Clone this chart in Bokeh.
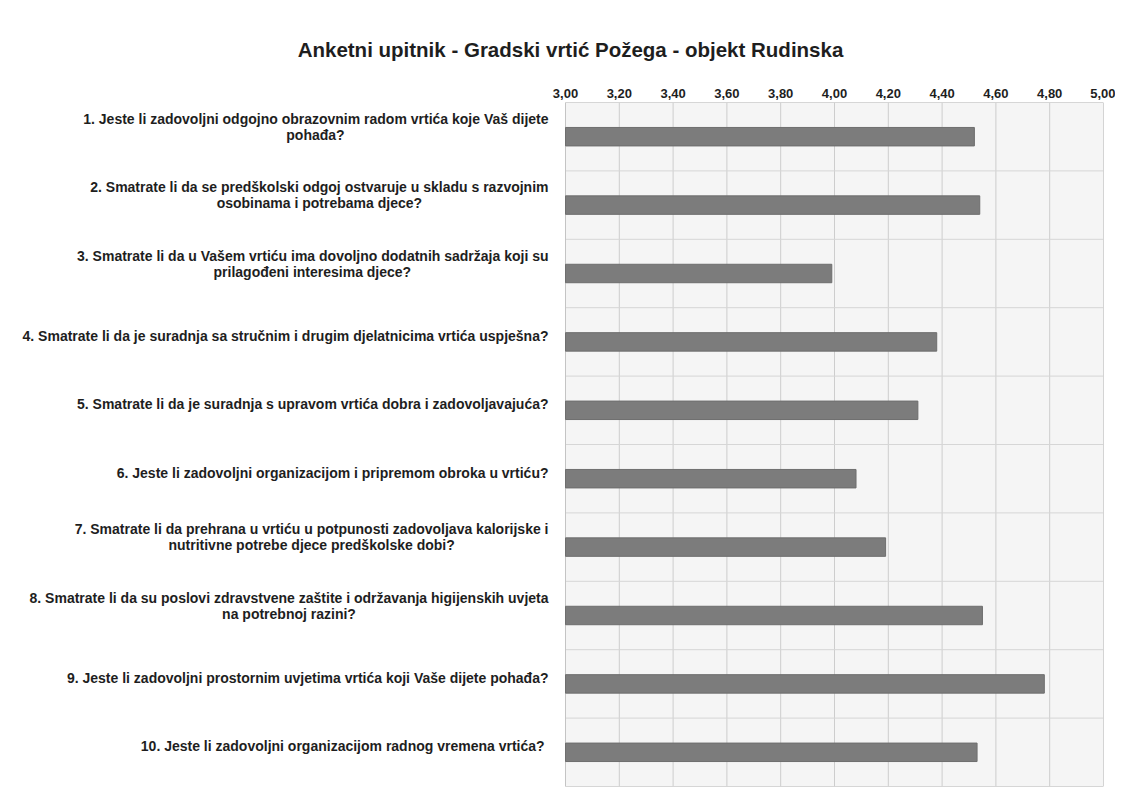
from bokeh.plotting import figure
from bokeh.models import Range1d, FixedTicker, CustomJSTickFormatter
from bokeh.core.properties import value
from bokeh.embed import file_html
from bokeh.resources import INLINE

TITLE = "Anketni upitnik - Gradski vrtić Požega - objekt Rudinska"
QUESTIONS = [
    "1. Jeste li zadovoljni odgojno obrazovnim radom vrtića koje Vaš dijete\npohađa?",
    "2. Smatrate li da se predškolski odgoj ostvaruje u skladu s razvojnim\nosobinama i potrebama djece?",
    "3. Smatrate li da u Vašem vrtiću ima dovoljno dodatnih sadržaja koji su\nprilagođeni interesima djece?",
    "4. Smatrate li da je suradnja sa stručnim i drugim djelatnicima vrtića uspješna?",
    "5. Smatrate li da je suradnja s upravom vrtića dobra i zadovoljavajuća?",
    "6. Jeste li zadovoljni organizacijom i pripremom obroka u vrtiću?",
    "7. Smatrate li da prehrana u vrtiću u potpunosti zadovoljava kalorijske i\nnutritivne potrebe djece predškolske dobi?",
    "8. Smatrate li da su poslovi zdravstvene zaštite i održavanja higijenskih uvjeta\nna potrebnoj razini?",
    "9. Jeste li zadovoljni prostornim uvjetima vrtića koji Vaše dijete pohađa?",
    "10.  Jeste li zadovoljni organizacijom radnog vremena vrtića?",
]
VALUES = [4.52, 4.54, 3.99, 4.38, 4.31, 4.08, 4.19, 4.55, 4.78, 4.53]
XTICKS = [3.0, 3.2, 3.4, 3.6, 3.8, 4.0, 4.2, 4.4, 4.6, 4.8, 5.0]

FONT = "Liberation Sans"
LABEL_SIZE = 14
TITLE_SIZE = 20.5
X_MIN, X_MAX = XTICKS[0], XTICKS[-1]

# layout (pixels)
FRAME_LEFT = 10           # page x of the (extended) frame's left edge
PLOT_LEFT = 565           # page x of the value 3,00
PLOT_RIGHT = 1103         # page x of the value 5,00
TITLE_CENTER = 570        # page x of the title's centre
BAND_PX = 68.4
PX_PER_UNIT = (PLOT_RIGHT - PLOT_LEFT) / (X_MAX - X_MIN)
x_start = X_MIN - (PLOT_LEFT - FRAME_LEFT) / PX_PER_UNIT

# approximate bold Arial advance widths (per 1000 em)
W = {' ': 278, '.': 278, ',': 278, '?': 611, '-': 333}
W.update({c: 556 for c in "0123456789"})
W.update(dict(zip("abcdefghijklmnopqrstuvwxyz",
                  [556, 611, 556, 611, 556, 333, 611, 611, 278, 278, 556, 278, 889,
                   611, 611, 611, 611, 389, 556, 333, 611, 556, 778, 556, 556, 500])))
W.update(dict(zip("ABCDEFGHIJKLMNOPQRSTUVWXYZ",
                  [722, 722, 722, 722, 667, 611, 778, 722, 278, 556, 722, 611, 833,
                   722, 778, 667, 778, 722, 667, 611, 722, 667, 944, 667, 667, 611])))
W.update({'ć': 556, 'č': 556, 'š': 556, 'ž': 500, 'đ': 611})


def text_width(s, size):
    return sum(W.get(ch, 556) for ch in s) / 1000.0 * size


n = len(QUESTIONS)
ys = [i + 0.5 for i in range(n)]

p = figure(frame_width=PLOT_RIGHT - FRAME_LEFT, frame_height=int(round(BAND_PX * n)),
           x_range=Range1d(x_start, X_MAX), y_range=Range1d(n, 0),
           x_axis_location="above", y_axis_location=None,
           output_backend="svg", toolbar_location=None, tools="",
           min_border_left=FRAME_LEFT, min_border_right=12, min_border_top=102,
           min_border_bottom=5,
           background_fill_color="white", border_fill_color="white",
           outline_line_color=None, title=TITLE)

p.title.align = "left"
p.title.offset = TITLE_CENTER - FRAME_LEFT - text_width(TITLE, TITLE_SIZE) / 2
p.title.text_font = FONT
p.title.text_font_size = f"{TITLE_SIZE}px"
p.title.text_font_style = "bold"
p.title.text_color = "#1e1e1e"
p.title.standoff = 50

# plot area background and grid (restricted to the value range)
p.quad(left=[X_MIN], right=[X_MAX], top=[0], bottom=[n],
       fill_color="#f5f5f5", line_color=None)
p.segment(x0=XTICKS, x1=XTICKS, y0=[0] * len(XTICKS), y1=[n] * len(XTICKS),
          line_color="#cdcdcd", line_width=1)
p.segment(x0=[X_MIN] * (n + 1), x1=[X_MAX] * (n + 1),
          y0=list(range(n + 1)), y1=list(range(n + 1)),
          line_color="#d6d6d6", line_width=1)
p.quad(left=[X_MIN], right=[X_MAX], top=[0], bottom=[n],
       fill_color=None, line_color="#c4c4c4", line_width=1)

p.hbar(y=ys, left=X_MIN, right=VALUES, height=0.27,
       fill_color="#7c7c7c", line_color="#6e6e6e", line_width=1)

p.xaxis.ticker = FixedTicker(ticks=XTICKS)
p.xaxis.formatter = CustomJSTickFormatter(code="return tick.toFixed(2).replace('.', ',');")
p.xaxis.axis_line_color = None
p.xaxis.major_tick_line_color = None
p.xaxis.minor_tick_line_color = None
p.xaxis.major_tick_out = 0
p.xaxis.major_tick_in = 0
p.xaxis.major_label_standoff = 5
p.xaxis.major_label_text_font = FONT
p.xaxis.major_label_text_font_size = "13px"
p.xaxis.major_label_text_font_style = "bold"
p.xaxis.major_label_text_color = "#1e1e1e"
p.xgrid.visible = False
p.ygrid.visible = False

# question labels: first line right-aligned, second line centred under it
RIGHT_OFF = -17
r_x, r_y, r_t = [], [], []
c_x, c_y, c_t = [], [], []
for y, q in zip(ys, QUESTIONS):
    lines = q.split("\n")
    if len(lines) == 1:
        r_x.append(X_MIN); r_y.append(y - 6 / BAND_PX); r_t.append(lines[0])
    else:
        w1 = text_width(lines[0], LABEL_SIZE)
        r_x.append(X_MIN); r_y.append(y - 18 / BAND_PX); r_t.append(lines[0])
        c_x.append(X_MIN + (RIGHT_OFF - w1 / 2) / PX_PER_UNIT)
        c_y.append(y - 2 / BAND_PX); c_t.append(lines[1])

p.text(x=r_x, y=r_y, text=r_t, x_offset=RIGHT_OFF, text_align="right",
       text_baseline="middle", text_font=value(FONT),
       text_font_size=f"{LABEL_SIZE}px", text_font_style="bold", text_color="#1e1e1e")
p.text(x=c_x, y=c_y, text=c_t, text_align="center",
       text_baseline="middle", text_font=value(FONT),
       text_font_size=f"{LABEL_SIZE}px", text_font_style="bold", text_color="#1e1e1e")

open("out.html", "w").write(file_html(p, INLINE))
